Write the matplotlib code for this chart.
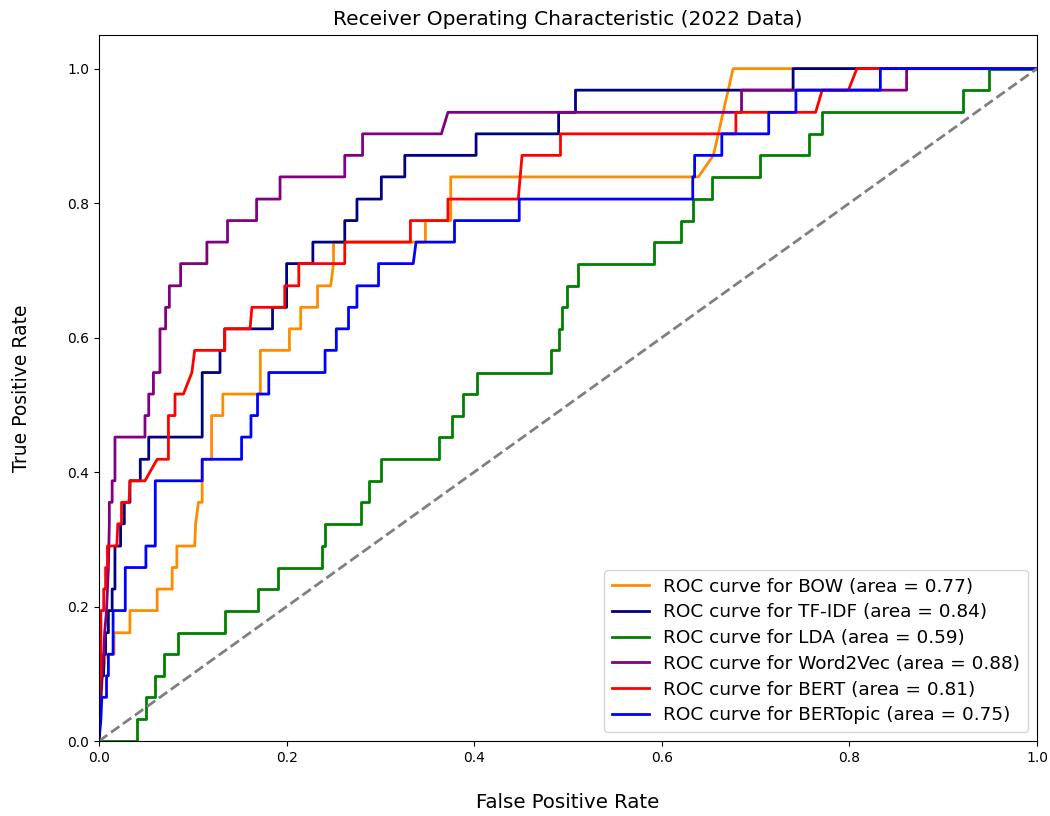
import matplotlib
matplotlib.use("Agg")
import matplotlib.pyplot as plt

# ROC curve vertices (fpr, tpr)
bow_pts = [(0, 0), (0.001, 0.032), (0.002, 0.065), (0.004, 0.097), (0.007, 0.129),
           (0.016, 0.129), (0.016, 0.161), (0.033, 0.161), (0.033, 0.194), (0.062, 0.194),
           (0.062, 0.226), (0.078, 0.226), (0.078, 0.258), (0.083, 0.258), (0.083, 0.290),
           (0.102, 0.290), (0.103, 0.323), (0.106, 0.355), (0.110, 0.355), (0.110, 0.419),
           (0.120, 0.419), (0.120, 0.484), (0.132, 0.484), (0.132, 0.516), (0.172, 0.516),
           (0.172, 0.581), (0.203, 0.581), (0.203, 0.613), (0.215, 0.613), (0.215, 0.645),
           (0.233, 0.645), (0.233, 0.677), (0.247, 0.677), (0.250, 0.710), (0.250, 0.742),
           (0.348, 0.742), (0.348, 0.774), (0.375, 0.774), (0.375, 0.839), (0.632, 0.839),
           (0.639, 0.839), (0.655, 0.871), (0.676, 1.0), (1, 1)]

tfidf_pts = [(0, 0), (0, 0.032), (0.002, 0.065), (0.003, 0.097), (0.005, 0.097),
             (0.005, 0.129), (0.007, 0.129), (0.007, 0.161), (0.010, 0.161), (0.010, 0.194),
             (0.014, 0.194), (0.014, 0.226), (0.017, 0.226), (0.017, 0.290), (0.023, 0.290),
             (0.023, 0.323), (0.027, 0.323), (0.027, 0.355), (0.033, 0.355), (0.033, 0.387),
             (0.044, 0.387), (0.044, 0.419), (0.053, 0.419), (0.053, 0.452), (0.110, 0.452),
             (0.110, 0.548), (0.129, 0.548), (0.129, 0.581), (0.134, 0.581), (0.134, 0.613),
             (0.185, 0.613), (0.185, 0.645), (0.200, 0.645), (0.200, 0.710), (0.228, 0.710),
             (0.228, 0.742), (0.262, 0.742), (0.262, 0.774), (0.275, 0.774), (0.275, 0.806),
             (0.301, 0.806), (0.301, 0.839), (0.326, 0.839), (0.326, 0.871), (0.402, 0.871),
             (0.402, 0.903), (0.490, 0.903), (0.490, 0.935), (0.508, 0.935), (0.508, 0.968),
             (0.740, 0.968), (0.740, 1.0), (1, 1)]

lda_pts = [(0, 0), (0.041, 0), (0.041, 0.032), (0.050, 0.032), (0.050, 0.065),
           (0.060, 0.065), (0.060, 0.097), (0.069, 0.097), (0.069, 0.129), (0.084, 0.129),
           (0.084, 0.161), (0.134, 0.161), (0.134, 0.194), (0.169, 0.194), (0.169, 0.226),
           (0.191, 0.226), (0.191, 0.258), (0.238, 0.258), (0.238, 0.290), (0.241, 0.290),
           (0.241, 0.323), (0.279, 0.323), (0.279, 0.355), (0.288, 0.355), (0.288, 0.387),
           (0.301, 0.387), (0.301, 0.419), (0.363, 0.419), (0.363, 0.452), (0.376, 0.452),
           (0.376, 0.484), (0.388, 0.484), (0.388, 0.516), (0.403, 0.516), (0.403, 0.548),
           (0.482, 0.548), (0.482, 0.581), (0.490, 0.581), (0.490, 0.613), (0.494, 0.613),
           (0.494, 0.645), (0.499, 0.645), (0.499, 0.677), (0.511, 0.677), (0.511, 0.710),
           (0.592, 0.710), (0.592, 0.742), (0.621, 0.742), (0.621, 0.774), (0.633, 0.774),
           (0.633, 0.806), (0.654, 0.806), (0.654, 0.839), (0.705, 0.839), (0.705, 0.871),
           (0.757, 0.871), (0.757, 0.903), (0.771, 0.903), (0.771, 0.935), (0.921, 0.935),
           (0.921, 0.968), (0.949, 0.968), (0.949, 1.0), (1, 1)]

w2v_pts = [(0, 0), (0.001, 0.065), (0.003, 0.097), (0.005, 0.129), (0.006, 0.161),
           (0.008, 0.194), (0.010, 0.258), (0.011, 0.323), (0.011, 0.355), (0.014, 0.355),
           (0.014, 0.387), (0.017, 0.387), (0.017, 0.452), (0.049, 0.452), (0.049, 0.484),
           (0.053, 0.484), (0.053, 0.516), (0.058, 0.516), (0.058, 0.548), (0.065, 0.548),
           (0.065, 0.613), (0.071, 0.613), (0.071, 0.645), (0.075, 0.645), (0.075, 0.677),
           (0.087, 0.677), (0.087, 0.710), (0.115, 0.710), (0.115, 0.742), (0.137, 0.742),
           (0.137, 0.774), (0.168, 0.774), (0.168, 0.806), (0.193, 0.806), (0.193, 0.839),
           (0.262, 0.839), (0.262, 0.871), (0.281, 0.871), (0.281, 0.903), (0.365, 0.903),
           (0.372, 0.935), (0.685, 0.935), (0.685, 0.968), (0.861, 0.968), (0.861, 1.0),
           (1, 1)]

bert_pts = [(0, 0), (0, 0.065), (0.001, 0.097), (0.002, 0.097), (0.002, 0.194),
            (0.005, 0.194), (0.005, 0.226), (0.007, 0.226), (0.007, 0.258), (0.009, 0.258),
            (0.009, 0.290), (0.019, 0.290), (0.020, 0.323), (0.024, 0.323), (0.024, 0.355),
            (0.032, 0.355), (0.033, 0.387), (0.049, 0.387), (0.062, 0.419), (0.074, 0.419),
            (0.074, 0.484), (0.081, 0.484), (0.081, 0.516), (0.090, 0.516), (0.099, 0.548),
            (0.102, 0.581), (0.134, 0.581), (0.134, 0.613), (0.161, 0.613), (0.163, 0.645),
            (0.198, 0.645), (0.198, 0.677), (0.213, 0.677), (0.213, 0.710), (0.262, 0.710),
            (0.262, 0.742), (0.332, 0.742), (0.332, 0.774), (0.372, 0.774), (0.372, 0.806),
            (0.447, 0.806), (0.451, 0.871), (0.492, 0.871), (0.492, 0.903), (0.679, 0.903),
            (0.679, 0.935), (0.764, 0.935), (0.771, 0.968), (0.799, 0.968), (0.808, 1.0),
            (1, 1)]

bertopic_pts = [(0, 0), (0.002, 0.032), (0.003, 0.065), (0.008, 0.065), (0.008, 0.097),
                (0.010, 0.097), (0.010, 0.129), (0.015, 0.129), (0.015, 0.194), (0.028, 0.194),
                (0.028, 0.258), (0.050, 0.258), (0.050, 0.290), (0.060, 0.290), (0.060, 0.387),
                (0.110, 0.387), (0.110, 0.419), (0.152, 0.419), (0.152, 0.452), (0.162, 0.452),
                (0.162, 0.484), (0.169, 0.484), (0.169, 0.516), (0.181, 0.516), (0.181, 0.548),
                (0.241, 0.548), (0.241, 0.581), (0.253, 0.581), (0.253, 0.613), (0.266, 0.613),
                (0.266, 0.645), (0.275, 0.645), (0.275, 0.677), (0.298, 0.677), (0.298, 0.710),
                (0.335, 0.710), (0.338, 0.742), (0.379, 0.742), (0.379, 0.774), (0.448, 0.774),
                (0.448, 0.806), (0.633, 0.806), (0.633, 0.839), (0.635, 0.839), (0.635, 0.871),
                (0.664, 0.871), (0.664, 0.903), (0.714, 0.903), (0.714, 0.935), (0.743, 0.935),
                (0.743, 0.968), (0.833, 0.968), (0.833, 1.0), (1, 1)]

models = ["BOW", "TF-IDF", "LDA", "Word2Vec", "BERT", "BERTopic"]
areas = [0.77, 0.84, 0.59, 0.88, 0.81, 0.75]
colors = ["darkorange", "navy", "green", "purple", "red", "blue"]
curves = [bow_pts, tfidf_pts, lda_pts, w2v_pts, bert_pts, bertopic_pts]

fig = plt.figure(figsize=(10.5, 8.16), dpi=100)
ax = fig.add_axes([0.0943, 0.0919, 0.8933, 0.8652])

for name, auc, col, pts in zip(models, areas, colors, curves):
    fpr = [p[0] for p in pts]
    tpr = [p[1] for p in pts]
    ax.plot(fpr, tpr, color=col, lw=2,
            label=f"ROC curve for {name} (area = {auc:.2f})")

ax.plot([0, 1], [0, 1], color="gray", lw=2, linestyle="--")
ax.set_xlim(0.0, 1.0)
ax.set_ylim(0.0, 1.05)
ax.set_xlabel("False Positive Rate", fontsize=14.2, labelpad=20)
ax.set_ylabel("True Positive Rate", fontsize=13.5, labelpad=26)
ax.set_title("Receiver Operating Characteristic (2022 Data)", fontsize=14.5, pad=7.5)
ax.legend(loc="lower right", fontsize=13.3, labelspacing=0.42)

fig.savefig("out.png", dpi=100)
